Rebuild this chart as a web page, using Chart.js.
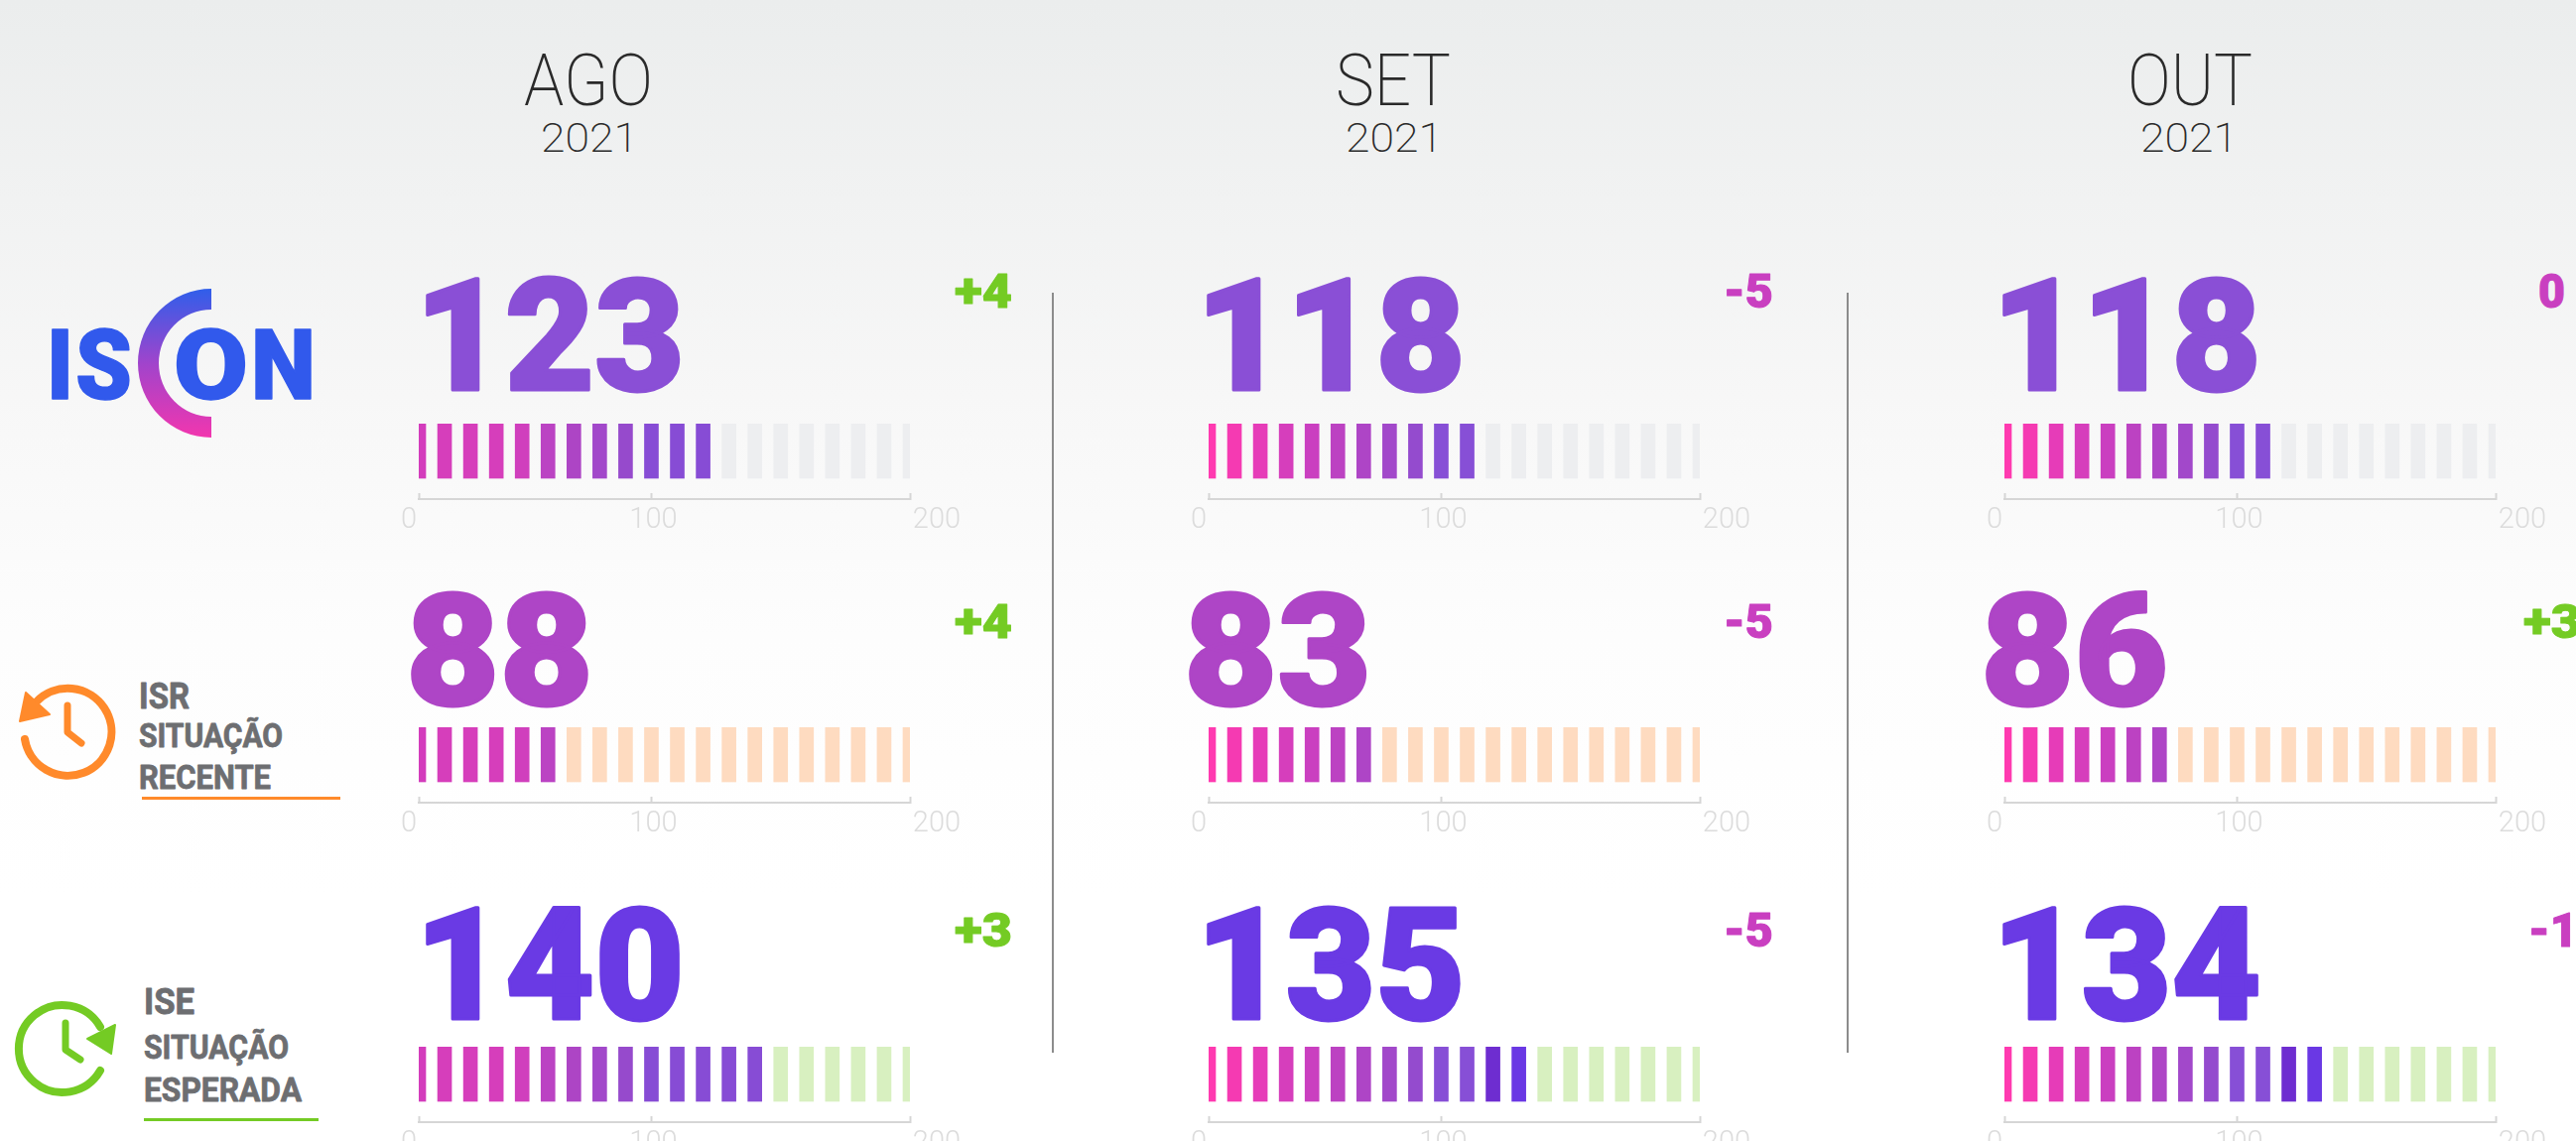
<!DOCTYPE html>
<html lang="pt">
<head>
<meta charset="utf-8">
<title>ISCON</title>
<script src="https://cdn.jsdelivr.net/npm/chart.js@4/dist/chart.umd.min.js"></script>
<style>
  html, body { margin: 0; padding: 0; width: 2596px; height: 1150px; overflow: hidden; }
  body {
    position: relative;
    background: linear-gradient(180deg, #ebeded 0, #f1f2f2 200px, #f7f7f7 400px, #fdfdfd 640px, #ffffff 900px);
  }
  canvas { position: absolute; }
  svg { position: absolute; left: 0; top: 0; }
</style>
</head>
<body>
<svg id="overlay" width="2596" height="1150" xmlns="http://www.w3.org/2000/svg">
  <defs>
    <linearGradient id="logoArc" x1="0" y1="0" x2="0" y2="1">
      <stop offset="0" stop-color="#2f5eea"/>
      <stop offset="0.5" stop-color="#a044cc"/>
      <stop offset="1" stop-color="#f236ae"/>
    </linearGradient>
  </defs>
  <path d="M213 291 A74 75 0 0 0 213 441 V420 A53 54 0 0 1 213 312 Z" fill="url(#logoArc)"/>
  <!-- ISR clock -->
  <path d="M25 745 A44 44 0 1 0 37 707" fill="none" stroke="#ff8a2b" stroke-width="8" stroke-linecap="round"/>
  <path d="M20 727 L26 698 L50 720 Z" fill="#ff8a2b" stroke="#ff8a2b" stroke-width="2" stroke-linejoin="round"/>
  <path d="M68 711 V738 L82 749" fill="none" stroke="#ff8a2b" stroke-width="7" stroke-linecap="round" stroke-linejoin="round"/>
  <rect x="143" y="803" width="200" height="3" fill="#ff8a2b"/>
  <!-- ISE clock -->
  <path d="M101 1079 A44 44 0 1 1 101 1035" fill="none" stroke="#74cb24" stroke-width="8" stroke-linecap="round"/>
  <path d="M116 1033 L112 1062 L88 1047 Z" fill="#74cb24" stroke="#74cb24" stroke-width="2" stroke-linejoin="round"/>
  <path d="M66 1031 V1058 L81 1068" fill="none" stroke="#74cb24" stroke-width="7" stroke-linecap="round" stroke-linejoin="round"/>
  <rect x="145" y="1127" width="176" height="3" fill="#74cb24"/>
  <!-- column dividers -->
  <rect x="1060" y="295" width="2" height="766" fill="#8c8c8c"/>
  <rect x="1861" y="295" width="2" height="766" fill="#8c8c8c"/>
</svg>

<script>
// =========================
// 1. DATA
// =========================

const months = ["AGO", "SET", "OUT"];
const years = ["2021", "2021", "2021"];

const isconValues = [123, 118, 118];
const isrValues = [88, 83, 86];
const iseValues = [140, 135, 134];

const isconDeltas = [4, -5, 0];
const isrDeltas = [4, -5, 3];
const iseDeltas = [3, -5, -1];

// how many of the gauge segments are lit, counted on the picture
const isconLit = [12, 11, 11];
const isrLit = [6, 7, 7];
const iseLit = [14, 13, 13];

const segmentPositions = [0, 1, 2, 3, 4, 5, 6, 7, 8, 9, 10, 11, 12, 13, 14, 15, 16, 17, 18, 19];
const tickPositions = [0, 9, 19];
const tickLabels = ["0", "100", "200"];

// =========================
// 2. COLOURS AND LAYOUT
// =========================

const rampAgo = ["#d33cbc", "#d63ebb", "#d63ebb", "#d63ebb", "#d03fbd", "#bb43c3", "#ad45c5", "#a248ca", "#964acc", "#874cd5", "#874cd5", "#874cd5", "#874cd5", "#874cd5"];
const rampLater = ["#ff3ab0", "#f53ab2", "#e63cb8", "#d63ebc", "#ca3fc0", "#bc42c2", "#ae45c6", "#a248ca", "#944bce", "#874fd6", "#874fd6", "#6e2dd0", "#6a38e4"];

const columnLeft = [422, 1218, 2020];
const gaugeWidth = 495;
const padLeft = 30;
const padRight = 60;
const barHeight = 55;
const axisGap = 21;
const axisBlock = 42;

const rows = [
    { values: isconValues, deltas: isconDeltas, lit: isconLit, top: 427, offColor: "#edeef0", valueColor: "#8a4fd6",
      baseline: 393, numberLeft: [418, 1205, 2007], deltaBaseline: 310, deltaLeft: [962, 1737, 2558] },
    { values: isrValues, deltas: isrDeltas, lit: isrLit, top: 733, offColor: "#fedbc0", valueColor: "#ae45c6",
      baseline: 710, numberLeft: [409, 1193, 1996], deltaBaseline: 643, deltaLeft: [962, 1737, 2543] },
    { values: iseValues, deltas: iseDeltas, lit: iseLit, top: 1055, offColor: "#d8f0c0", valueColor: "#6a3ae4",
      baseline: 1027, numberLeft: [418, 1205, 2007], deltaBaseline: 954, deltaLeft: [962, 1737, 2548] }
];

// =========================
// 3. PLAIN TEXT (SVG OVERLAY)
// =========================

const overlay = document.getElementById("overlay");

function addText(str, x, baseline, size, weight, fill, width, strokeWidth) {
    const t = document.createElementNS("http://www.w3.org/2000/svg", "text");
    t.textContent = str;
    t.setAttribute("x", x);
    t.setAttribute("y", baseline);
    t.setAttribute("font-family", "Roboto");
    t.setAttribute("font-size", size);
    t.setAttribute("font-weight", weight);
    t.setAttribute("fill", fill);
    if (width) {
        t.setAttribute("textLength", width);
        t.setAttribute("lengthAdjust", "spacingAndGlyphs");
    }
    if (strokeWidth) {
        // the original face is heavier and rounder than Roboto
        t.setAttribute("stroke", fill);
        t.setAttribute("stroke-width", strokeWidth);
        t.setAttribute("stroke-linejoin", "round");
    }
    overlay.appendChild(t);
}

const titleLeft = [528, 1346, 2144];
const titleWidth = [130, 116, 126];
const yearLeft = [545, 1356, 2157];

months.forEach((m, i) => {
    addText(m, titleLeft[i], 106, 72, 200, "#2a2a2a", titleWidth[i]);
    addText(years[i], yearLeft[i], 153, 40, 200, "#2a2a2a", 98);
});

// logo letters
addText("I", 47, 402, 98, 900, "#3159ec", 27, 1.5);
addText("S", 76, 402, 98, 900, "#3159ec", 57, 1.5);
addText("O", 175, 402, 98, 900, "#3159ec", 75, 1.5);
addText("N", 253, 402, 98, 900, "#3159ec", 65, 1.5);

// row names
addText("ISR", 140, 714, 36, 700, "#6d6e71", 51, 0.8);
addText("SITUAÇÃO", 140, 753, 34, 700, "#6d6e71", 145, 0.8);
addText("RECENTE", 140, 795, 34, 700, "#6d6e71", 133, 0.8);
addText("ISE", 145, 1022, 36, 700, "#6d6e71", 51, 0.8);
addText("SITUAÇÃO", 145, 1067, 34, 700, "#6d6e71", 146, 0.8);
addText("ESPERADA", 145, 1110, 34, 700, "#6d6e71", 159, 0.8);

function deltaText(d) {
    return d > 0 ? "+" + d : String(d);
}

rows.forEach(row => {
    row.values.forEach((v, i) => {
        const len = String(v).length;
        addText(String(v), row.numberLeft[i], row.baseline, 157, 900, row.valueColor, len === 3 ? 272 : 189, 3);
        const d = row.deltas[i];
        const w = d === 0 ? 27 : (d > 0 ? 58 : 50);
        addText(deltaText(d), row.deltaLeft[i], row.deltaBaseline, 49, 900, d > 0 ? "#74cb24" : "#c93fc0", w, 1);
    });
});

// =========================
// 4. GAUGES (ONE CHART.JS BAR CHART PER CELL)
// =========================

// 0 sits left of the axis start and 200 right of its end, so nudge the tick texts
const tickShift = [-10, 2, 27];
const shiftTickLabels = {
    id: "shiftTickLabels",
    beforeDraw(chart) {
        const x = chart.scales.x;
        x.getLabelItems().forEach((item, i) => {
            item.options.translation[0] = x.getPixelForValue(tickPositions[i]) + tickShift[i];
        });
    }
};

function buildGauge(row, col) {
    const canvas = document.createElement("canvas");
    canvas.width = padLeft + gaugeWidth + padRight;
    canvas.height = barHeight + axisGap + axisBlock;
    canvas.style.left = (columnLeft[col] - padLeft) + "px";
    canvas.style.top = row.top + "px";
    document.body.appendChild(canvas);

    const ramp = col === 0 ? rampAgo : rampLater;
    const lit = row.lit[col];

    return new Chart(canvas, {
        type: "bar",
        data: {
            datasets: [{
                data: segmentPositions.map(p => ({ x: p, y: 1 })),
                backgroundColor: segmentPositions.map((p, i) => i < lit ? ramp[i] : row.offColor),
                barThickness: 14,
                borderWidth: 0
            }]
        },
        options: {
            responsive: false,
            animation: false,
            events: [],
            layout: { padding: { left: padLeft, right: padRight, top: 0, bottom: 0 } },
            plugins: { legend: { display: false }, tooltip: { enabled: false } },
            scales: {
                x: {
                    type: "linear",
                    offset: false,
                    min: 0,
                    max: 19,
                    afterBuildTicks: axis => { axis.ticks = tickPositions.map(v => ({ value: v })); },
                    afterFit: axis => { axis.height = axisBlock; },
                    border: { display: true, color: "#d6d6d6", width: 2 },
                    grid: { offset: false, drawOnChartArea: false, drawTicks: true, tickLength: -6, tickWidth: 2, tickColor: "#d6d6d6" },
                    ticks: {
                        autoSkip: false,
                        maxRotation: 0,
                        padding: 10,
                        color: "#dcdcdc",
                        font: { family: "Roboto", size: 29, weight: 300 },
                        callback: value => tickLabels[tickPositions.indexOf(value)]
                    }
                },
                y: { display: false, min: -axisGap / barHeight, max: 1 }
            }
        },
        plugins: [shiftTickLabels]
    });
}

rows.forEach(row => {
    months.forEach((m, col) => buildGauge(row, col));
});
</script>
</body>
</html>
